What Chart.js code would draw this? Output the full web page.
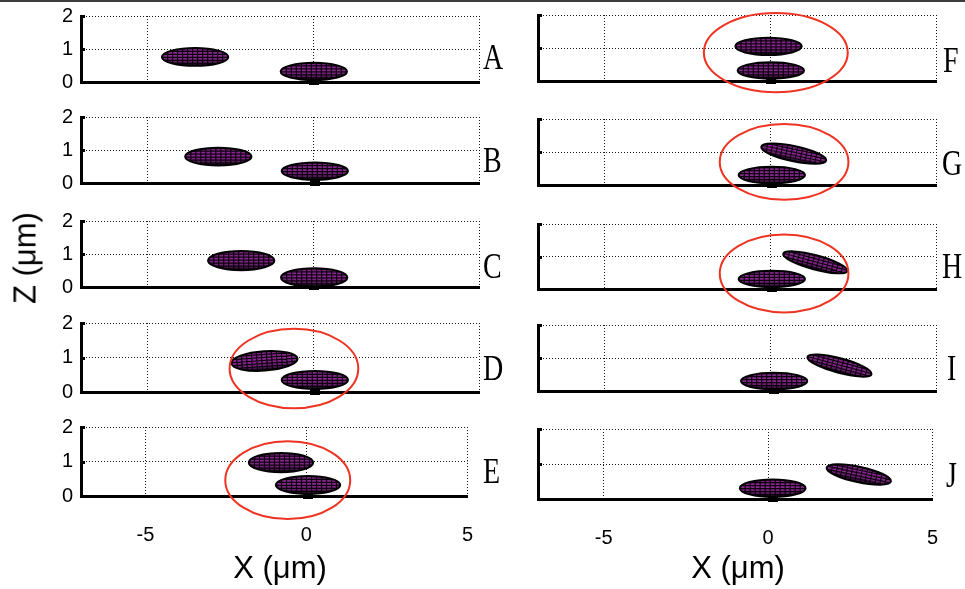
<!DOCTYPE html>
<html>
<head>
<meta charset="utf-8">
<script src="https://cdn.jsdelivr.net/npm/chart.js@4.4.1/dist/chart.umd.min.js"></script>
<style>
html,body{margin:0;padding:0;background:#fff;}
#wrap{position:relative;width:965px;height:589px;overflow:hidden;background:#fff;}
#topline{position:absolute;left:0;top:0;width:965px;height:2px;background:#3c3c3c;}
.panel{position:absolute;}
.panel canvas{display:block;}
.letter{position:absolute;font-family:'Liberation Serif','Times New Roman',serif;font-size:28px;line-height:28px;color:#000;transform:scaleY(1.3);transform-origin:left center;white-space:nowrap;}
.axtitle{position:absolute;font-family:'Liberation Sans',Arial,sans-serif;font-size:31px;line-height:31px;color:#000;white-space:nowrap;}
</style>
</head>
<body>
<div id="wrap"><div id="topline"></div></div>
<script>
// ---------------- data ----------------
const panelLetters = ['A','B','C','D','E','F','G','H','I','J'];
const xTickValues = [-5, 0, 5];
const zTickValues = [0, 1, 2];
const xMin = -7, xMax = 5;
const zMin = 0, zMax = 2;

// upper (moving) cell: centre X, centre Z (µm), tilt (deg, + = right end up), semi-minor (µm)
const upperX     = [-3.56, -2.86, -2.17, -1.47, -0.79, -0.05, 0.71, 1.36, 2.09, 2.76];
const upperZ     = [0.76, 0.80, 0.80, 0.90, 0.97, 1.05, 0.95, 0.82, 0.77, 0.70];
const upperTilt  = [0, 0, 0, 4, 0, 0, -12, -15, -15, -12];
const upperMinor = [0.27, 0.27, 0.29, 0.28, 0.28, 0.26, 0.23, 0.22, 0.22, 0.22];
// lower (resting) cell
const lowerX     = [0.02, 0.05, 0.03, 0.05, 0.05, 0.02, 0.05, 0.05, 0.12, 0.14];
const lowerZ     = [0.32, 0.36, 0.29, 0.35, 0.32, 0.32, 0.30, 0.31, 0.30, 0.31];
const lowerMinor = [0.26, 0.26, 0.28, 0.26, 0.26, 0.25, 0.25, 0.25, 0.25, 0.25];
const cellSemiMajor = 1.0;
// red contact circles (null = none)
const circleX  = [null, null, null, -0.58, -0.58, 0.17, 0.42, 0.42, null, null];
const circleZ  = [null, null, null, 0.68, 0.46, 0.86, 0.70, 0.48, null, null];
const circleRx = [null, null, null, 1.94, 1.94, 2.17, 1.94, 1.94, null, null];
const circleRz = [null, null, null, 1.15, 1.13, 1.20, 1.15, 1.20, null, null];

// ---------------- layout ----------------
const plotTop    = [16, 117, 221, 323, 427, 15, 119, 224, 325, 429];
const plotBottom = [82, 183, 287, 392, 496, 81, 185, 289, 391, 499];
const colDivLeft = [0, 500], colDivWidth = [500, 465];
const colPlotLeft = [81, 538], colPlotRight = [479, 936];
const letterX = [483, 483, 483, 483, 483, 943, 942, 942, 947, 946];
const letterY = [57, 159.5, 266, 367.5, 471, 59.5, 162.5, 266, 368, 475];
const FONT = "'Liberation Sans', Arial, sans-serif";

function drawCell(ctx, cx, cy, rx, ry, tiltDeg) {
  ctx.save();
  ctx.translate(cx, cy);
  ctx.rotate(-tiltDeg * Math.PI / 180);
  ctx.beginPath();
  ctx.ellipse(0, 0, rx, ry, 0, 0, Math.PI * 2);
  ctx.save();
  ctx.clip();
  ctx.fillStyle = '#8c2894';
  ctx.fillRect(-rx - 2, -ry - 2, 2 * rx + 4, 2 * ry + 4);
  ctx.strokeStyle = '#100210';
  ctx.lineWidth = 1.2;
  ctx.beginPath();
  for (let yy = -ry; yy <= ry; yy += 3) { ctx.moveTo(-rx, Math.round(yy) + 0.5); ctx.lineTo(rx, Math.round(yy) + 0.5); }
  for (let xx = -rx; xx <= rx; xx += 5) { ctx.moveTo(Math.round(xx) + 0.5, -ry); ctx.lineTo(Math.round(xx) + 0.5, ry); }
  ctx.stroke();
  // darker lower rim
  const g = ctx.createLinearGradient(0, -ry, 0, ry);
  g.addColorStop(0, 'rgba(0,0,0,0.15)');
  g.addColorStop(0.45, 'rgba(0,0,0,0)');
  g.addColorStop(0.75, 'rgba(0,0,0,0.25)');
  g.addColorStop(1, 'rgba(0,0,0,0.85)');
  ctx.fillStyle = g;
  ctx.fillRect(-rx - 2, -ry - 2, 2 * rx + 4, 2 * ry + 4);
  ctx.restore();
  ctx.beginPath();
  ctx.ellipse(0, 0, rx, ry, 0, 0, Math.PI * 2);
  ctx.strokeStyle = '#000';
  ctx.lineWidth = 2;
  ctx.stroke();
  ctx.restore();
}

const cellPlugin = {
  id: 'cellShapes',
  afterDatasetsDraw(chart, args, opts) {
    const p = opts.panel;
    const ctx = chart.ctx;
    const xs = chart.scales.x, ys = chart.scales.y;
    const ux = Math.abs(xs.getPixelForValue(1) - xs.getPixelForValue(0));
    const uy = Math.abs(ys.getPixelForValue(1) - ys.getPixelForValue(0));
    // small inward ticks on the Z axis
    ctx.save();
    ctx.strokeStyle = '#000';
    ctx.lineWidth = 3;
    ctx.beginPath();
    zTickValues.forEach(v => {
      if (v === zMin) return;
      const py = Math.round(ys.getPixelForValue(v)) + 0.5;
      ctx.moveTo(chart.chartArea.left, py);
      ctx.lineTo(chart.chartArea.left + 4, py);
    });
    ctx.stroke();
    ctx.restore();
    // lower cell with its dark contact foot
    const lx = xs.getPixelForValue(lowerX[p]), lz = ys.getPixelForValue(lowerZ[p]);
    const lry = lowerMinor[p] * uy;
    ctx.save();
    ctx.fillStyle = '#000';
    ctx.fillRect(Math.round(lx) - 5, lz, 10, ys.getPixelForValue(zMin) - lz + 3);
    ctx.restore();
    drawCell(ctx, lx, lz, cellSemiMajor * ux, lry, 0);
    drawCell(ctx, xs.getPixelForValue(upperX[p]), ys.getPixelForValue(upperZ[p]),
             cellSemiMajor * ux, upperMinor[p] * uy, upperTilt[p]);
    if (circleX[p] !== null) {
      ctx.save();
      ctx.beginPath();
      ctx.ellipse(xs.getPixelForValue(circleX[p]), ys.getPixelForValue(circleZ[p]),
                  circleRx[p] * ux, circleRz[p] * uy, 0, 0, Math.PI * 2);
      ctx.strokeStyle = '#ee3322';
      ctx.lineWidth = 2;
      ctx.stroke();
      ctx.restore();
    }
  }
};

const wrap = document.getElementById('wrap');
const PAD_TOP = 22;

for (let p = 0; p < 10; p++) {
  const col = p < 5 ? 0 : 1;
  const isBottom = (p % 5) === 4;
  const xAxisH = isBottom ? 70 : 30;
  const plotH = plotBottom[p] - plotTop[p];
  const div = document.createElement('div');
  div.className = 'panel';
  const w = colDivWidth[col];
  const h = PAD_TOP + plotH + xAxisH;
  div.style.left = colDivLeft[col] + 'px';
  div.style.top = (plotTop[p] - PAD_TOP) + 'px';
  div.style.width = w + 'px';
  div.style.height = h + 'px';
  const cv = document.createElement('canvas');
  cv.width = w; cv.height = h;
  cv.style.width = w + 'px'; cv.style.height = h + 'px';
  div.appendChild(cv);
  wrap.appendChild(div);

  const yAxisW = colPlotLeft[col] - colDivLeft[col];
  const rightPad = colDivLeft[col] + w - colPlotRight[col];

  new Chart(cv, {
    type: 'scatter',
    data: {
      datasets: [{
        data: [{x: upperX[p], y: upperZ[p]}, {x: lowerX[p], y: lowerZ[p]}],
        pointRadius: 0, showLine: false
      }]
    },
    options: {
      responsive: false,
      animation: false,
      events: [],
      layout: {padding: {top: PAD_TOP, right: rightPad, left: 0, bottom: 0}},
      plugins: {legend: {display: false}, tooltip: {enabled: false}, cellShapes: {panel: p}},
      scales: {
        x: {
          type: 'linear', min: xMin, max: xMax,
          afterBuildTicks: s => { s.ticks = xTickValues.map(v => ({value: v})); },
          afterFit: s => { s.height = xAxisH; },
          grid: {color: '#1a1a1a', lineWidth: 1, drawTicks: false},
          border: {display: true, color: '#000', width: 3, dash: [1, 2]},
          ticks: {display: isBottom, padding: 27, color: '#000', font: {family: FONT, size: 20}, maxRotation: 0}
        },
        y: {
          type: 'linear', min: zMin, max: zMax,
          afterBuildTicks: s => { s.ticks = zTickValues.map(v => ({value: v})); },
          afterFit: s => { s.width = yAxisW; },
          grid: {color: '#1a1a1a', lineWidth: 1, drawTicks: false},
          border: {display: true, color: '#000', width: 3, dash: [1, 2]},
          ticks: {display: col === 0, padding: 8, color: '#000', font: {family: FONT, size: 20}}
        }
      }
    },
    plugins: [cellPlugin]
  });

  const lt = document.createElement('div');
  lt.className = 'letter';
  lt.textContent = panelLetters[p];
  lt.style.left = letterX[p] + 'px';
  lt.style.top = (letterY[p] - 14) + 'px';
  wrap.appendChild(lt);
}

// axis titles
const xt1 = document.createElement('div');
xt1.className = 'axtitle'; xt1.textContent = 'X (μm)';
xt1.style.left = '280px'; xt1.style.top = '552px'; xt1.style.transform = 'translateX(-50%)';
wrap.appendChild(xt1);
const xt2 = document.createElement('div');
xt2.className = 'axtitle'; xt2.textContent = 'X (μm)';
xt2.style.left = '738px'; xt2.style.top = '552px'; xt2.style.transform = 'translateX(-50%)';
wrap.appendChild(xt2);
const zt = document.createElement('div');
zt.className = 'axtitle'; zt.textContent = 'Z (μm)';
zt.style.left = '25px'; zt.style.top = '258px'; zt.style.transform = 'translate(-50%,-50%) rotate(-90deg)';
wrap.appendChild(zt);
</script>
</body>
</html>
